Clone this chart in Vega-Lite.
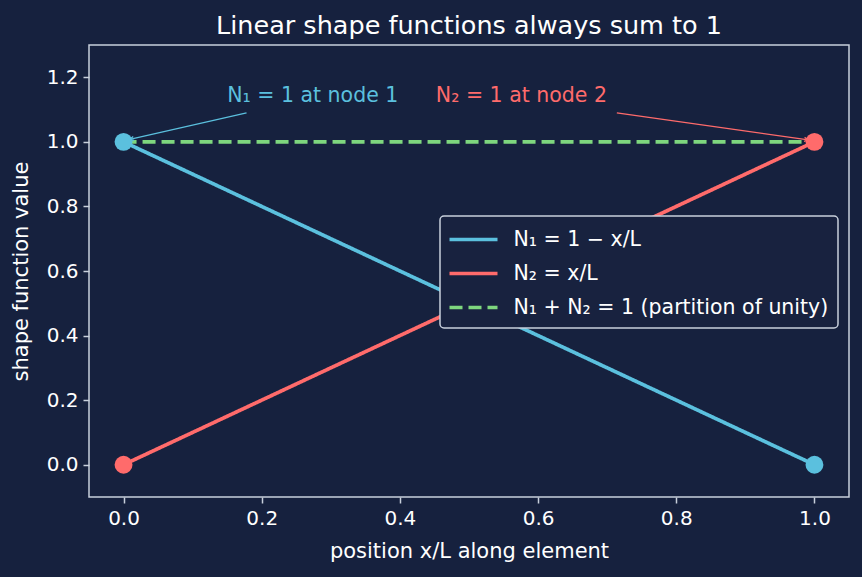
{
  "$schema": "https://vega.github.io/schema/vega-lite/v6.json",
  "width": 760,
  "height": 452,
  "autosize": {"type": "none"},
  "padding": {"left": 89, "top": 45, "right": 13, "bottom": 80},
  "background": "#16213e",
  "title": {"text": "Linear shape functions always sum to 1", "color": "#ffffff", "fontSize": 25.5, "font": "DejaVu Sans", "fontWeight": "normal", "offset": 6},
  "config": {
    "font": "DejaVu Sans",
    "view": {"stroke": "#c8d0dc", "strokeWidth": 1.5, "fill": "#16213e"},
    "axis": {
      "domain": false, "grid": false,
      "tickColor": "#c8d0dc", "tickSize": 6, "tickWidth": 1.5,
      "labelColor": "#ffffff", "labelFontSize": 20, "labelFont": "DejaVu Sans",
      "titleColor": "#ffffff", "titleFontSize": 21, "titleFontWeight": "normal", "titleFont": "DejaVu Sans",
      "labelPadding": 5
    },
    "legend": {
      "orient": "none", "legendX": 351, "legendY": 171,
      "fillColor": "#18223f", "strokeColor": "#c8d0dc", "strokeWidth": 1.5, "cornerRadius": 4,
      "padding": 9.5, "labelColor": "#ffffff", "labelFontSize": 20.5, "labelFont": "DejaVu Sans",
      "symbolType": "M-2,0L2,0", "symbolSize": 576, "symbolStrokeWidth": 3.7, "symbolOffset": 10,
      "rowPadding": 9, "labelOffset": 26,
      "labelLimit": 500
    }
  },
  "datasets": {
    "lines": [
      {"series": "N₁ = 1 − x/L", "x": 0, "y": 1},
      {"series": "N₁ = 1 − x/L", "x": 1, "y": 0},
      {"series": "N₂ = x/L", "x": 0, "y": 0},
      {"series": "N₂ = x/L", "x": 1, "y": 1},
      {"series": "N₁ + N₂ = 1 (partition of unity)", "x": 0, "y": 1},
      {"series": "N₁ + N₂ = 1 (partition of unity)", "x": 1, "y": 1}
    ],
    "nodes": [
      {"series": "N₁ = 1 − x/L", "x": 0, "y": 1},
      {"series": "N₁ = 1 − x/L", "x": 1, "y": 0},
      {"series": "N₂ = x/L", "x": 0, "y": 0},
      {"series": "N₂ = x/L", "x": 1, "y": 1}
    ],
    "notes": [
      {"series": "N₁ = 1 − x/L", "text": "N₁ = 1 at node 1", "tx": 0.15, "ty": 1.142, "ax": 0.178, "ay": 1.09, "hx": 0.009, "hy": 1.008},
      {"series": "N₂ = x/L", "text": "N₂ = 1 at node 2", "tx": 0.452, "ty": 1.142, "ax": 0.714, "ay": 1.09, "hx": 0.991, "hy": 1.006}
    ]
  },
  "layer": [
    {
      "data": {"name": "lines"},
      "mark": {"type": "line", "strokeWidth": 3.7},
      "encoding": {
        "x": {"field": "x", "type": "quantitative", "scale": {"domain": [-0.05, 1.05], "nice": false, "zero": false},
              "axis": {"values": [0, 0.2, 0.4, 0.6, 0.8, 1.0], "format": ".1f", "title": "position x/L along element", "titlePadding": 12}},
        "y": {"field": "y", "type": "quantitative", "scale": {"domain": [-0.1, 1.3], "nice": false, "zero": false},
              "axis": {"values": [0, 0.2, 0.4, 0.6, 0.8, 1.0, 1.2], "format": ".1f", "title": "shape function value", "titlePadding": 15}},
        "color": {"field": "series", "type": "nominal", "title": null,
                  "scale": {"domain": ["N₁ = 1 − x/L", "N₂ = x/L", "N₁ + N₂ = 1 (partition of unity)"], "range": ["#5bc0de", "#ff6b6b", "#7ed67e"]}},
        "strokeDash": {"field": "series", "type": "nominal", "title": null,
                  "scale": {"domain": ["N₁ = 1 − x/L", "N₂ = x/L", "N₁ + N₂ = 1 (partition of unity)"], "range": [[1, 0], [1, 0], [13, 6]]}}
      }
    },
    {
      "data": {"name": "notes"},
      "mark": {"type": "rule", "strokeWidth": 1.3},
      "encoding": {
        "x": {"field": "ax", "type": "quantitative"},
        "y": {"field": "ay", "type": "quantitative"},
        "x2": {"field": "hx"},
        "y2": {"field": "hy"},
        "color": {"field": "series", "type": "nominal", "title": null}
      }
    },
    {
      "data": {"name": "notes"},
      "transform": [{"filter": "datum.text === 'N₁ = 1 at node 1'"}],
      "mark": {"type": "point", "shape": "M-1,2L0,0L1,2", "filled": false, "strokeWidth": 1.3, "size": 16, "angle": 257.5, "opacity": 1},
      "encoding": {
        "x": {"field": "hx", "type": "quantitative"},
        "y": {"field": "hy", "type": "quantitative"},
        "color": {"field": "series", "type": "nominal", "title": null}
      }
    },
    {
      "data": {"name": "notes"},
      "transform": [{"filter": "datum.text === 'N₂ = 1 at node 2'"}],
      "mark": {"type": "point", "shape": "M-1,2L0,0L1,2", "filled": false, "strokeWidth": 1.3, "size": 16, "angle": 98, "opacity": 1},
      "encoding": {
        "x": {"field": "hx", "type": "quantitative"},
        "y": {"field": "hy", "type": "quantitative"},
        "color": {"field": "series", "type": "nominal", "title": null}
      }
    },
    {
      "data": {"name": "notes"},
      "mark": {"type": "text", "align": "left", "baseline": "middle", "fontSize": 20.5},
      "encoding": {
        "x": {"field": "tx", "type": "quantitative"},
        "y": {"field": "ty", "type": "quantitative"},
        "text": {"field": "text"},
        "color": {"field": "series", "type": "nominal", "title": null}
      }
    },
    {
      "data": {"name": "nodes"},
      "mark": {"type": "point", "filled": true, "opacity": 1, "size": 320},
      "encoding": {
        "x": {"field": "x", "type": "quantitative"},
        "y": {"field": "y", "type": "quantitative"},
        "color": {"field": "series", "type": "nominal", "title": null}
      }
    }
  ]
}
